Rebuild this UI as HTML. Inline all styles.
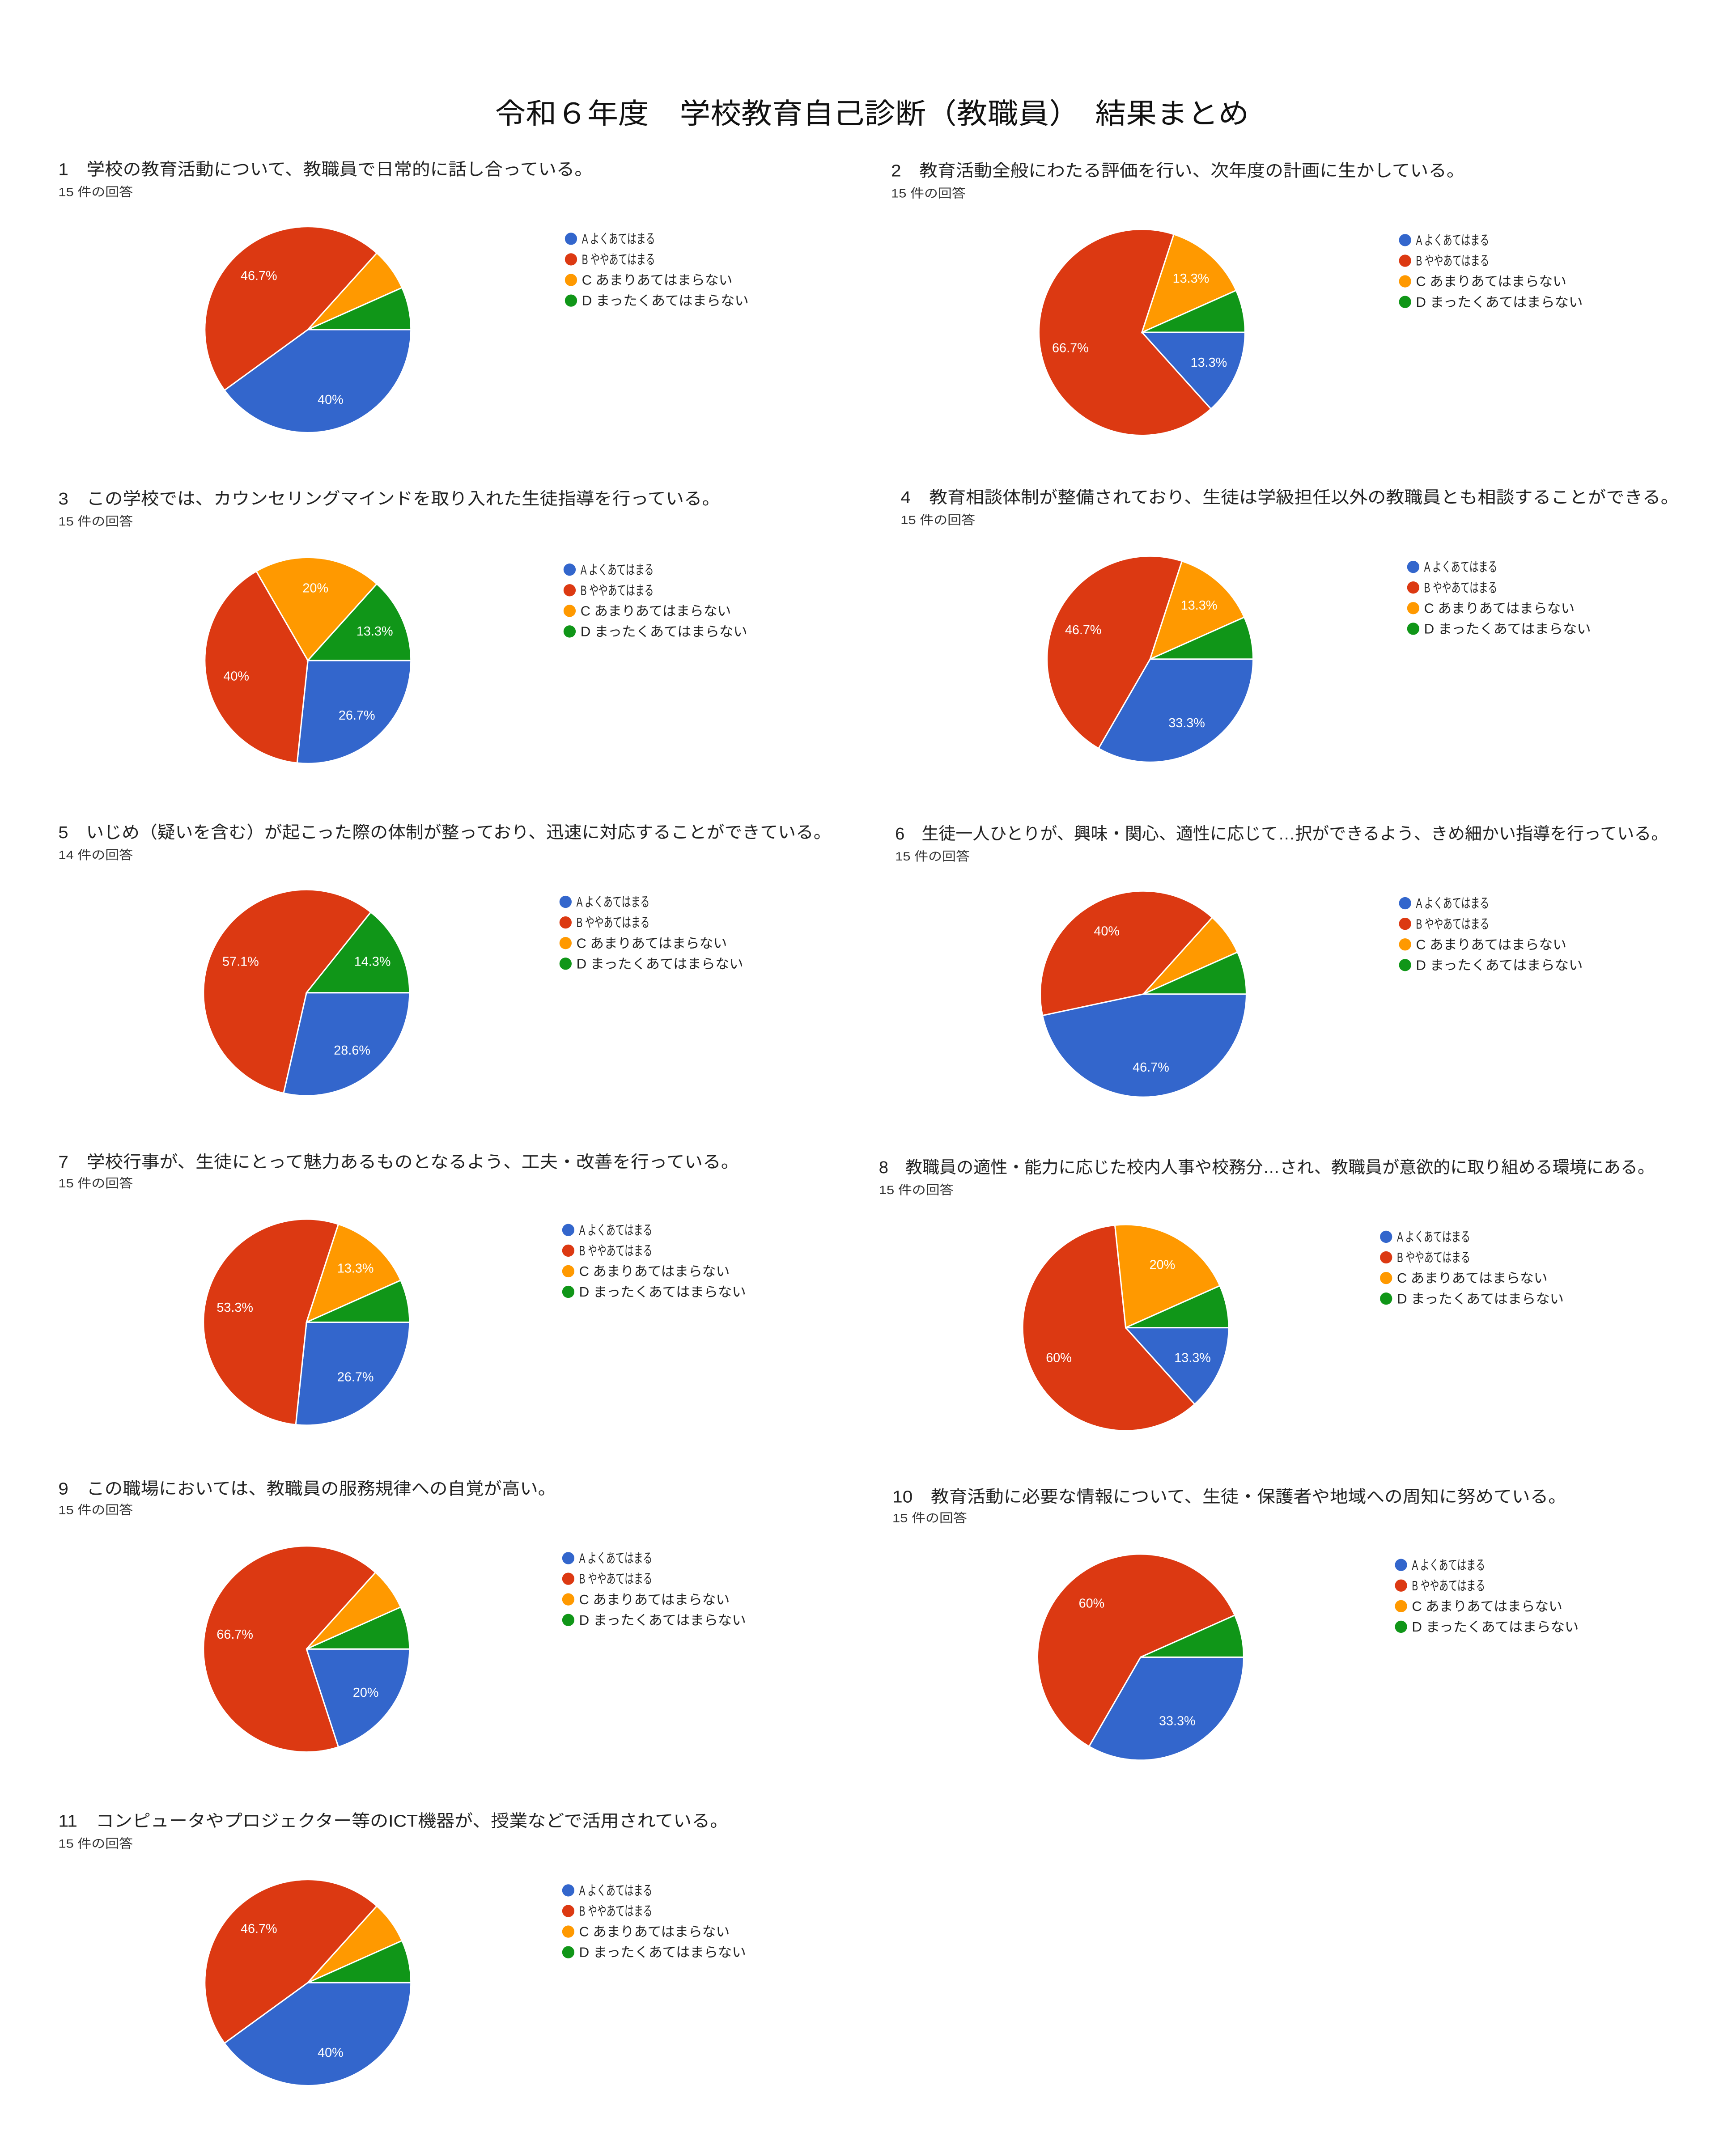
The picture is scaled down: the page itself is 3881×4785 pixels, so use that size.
<!DOCTYPE html>
<html><head><meta charset="utf-8">
<style>html,body{margin:0;padding:0;background:#fff}svg{display:block}</style>
</head><body>
<svg id="s" xmlns="http://www.w3.org/2000/svg" width="3881" height="4785" viewBox="0 0 1280 1578" font-family="'Liberation Sans','Noto Sans CJK JP',sans-serif">
<rect width="1280" height="1578" fill="#fff"/>
<text x="643" y="91" font-size="21" text-anchor="middle" fill="#111" textLength="556" lengthAdjust="spacingAndGlyphs">令和６年度　学校教育自己診断（教職員）　結果まとめ</text>
</svg>
<script>
var C=['#3366cc','#dc3912','#ff9900','#109618'];
var L=['A よくあてはまる','B ややあてはまる','C あまりあてはまらない','D まったくあてはまらない'];
var Q=[
[43,124,437,'1　学校の教育活動について、教職員で日常的に話し合っている。',141,227,243,421,176,[6,7,1,1],'15'],
[657,125,1080,'2　教育活動全般にわたる評価を行い、次年度の計画に生かしている。',142,842,245,1036,177,[2,10,2,1],'15'],
[43,367,531,'3　この学校では、カウンセリングマインドを取り入れた生徒指導を行っている。',384,227,487,420,420,[4,6,3,2],'15'],
[664,366,1238,'4　教育相談体制が整備されており、生徒は学級担任以外の教職員とも相談することができる。',383,848,486,1042,418,[5,7,2,1],'15'],
[43,613,613,'5　いじめ（疑いを含む）が起こった際の体制が整っており、迅速に対応することができている。',630,226,732,417,665,[4,8,0,2],'14'],
[660,614,1230,'6　生徒一人ひとりが、興味・関心、適性に応じて…択ができるよう、きめ細かい指導を行っている。',631,843,733,1036,666,[7,6,1,1],'15'],
[43,856,545,'7　学校行事が、生徒にとって魅力あるものとなるよう、工夫・改善を行っている。',872,226,975,419,907,[4,8,2,1],'15'],
[648,860,1220,'8　教職員の適性・能力に応じた校内人事や校務分…され、教職員が意欲的に取り組める環境にある。',877,830,979,1022,912,[2,9,3,1],'15'],
[43,1097,410,'9　この職場においては、教職員の服務規律への自覚が高い。',1113,226,1216,419,1149,[3,10,1,1],'15'],
[658,1103,1155,'10　教育活動に必要な情報について、生徒・保護者や地域への周知に努めている。',1119,841,1222,1033,1154,[5,9,0,1],'15'],
[43,1342,537,'11　コンピュータやプロジェクター等のICT機器が、授業などで活用されている。',1359,227,1462,419,1394,[6,7,1,1],'15']
];
var h='';var R=76;
function pt(cx,cy,r,a){return [cx+r*Math.cos(a),cy+r*Math.sin(a)];}
Q.forEach(function(q){
 h+='<text x="'+q[0]+'" y="'+(q[1]+5)+'" font-size="12.5" fill="#222" textLength="'+(q[2]-q[0])+'" lengthAdjust="spacingAndGlyphs">'+q[3]+'</text>';
 h+='<text x="'+q[0]+'" y="'+(q[4]+3.5)+'" font-size="9" fill="#333" textLength="55" lengthAdjust="spacingAndGlyphs">'+q[10]+' 件の回答</text>';
 var d=q[9],tot=d.reduce(function(a,b){return a+b},0),a0=0,cx=q[5],cy=q[6];
 d.forEach(function(v,i){
  if(!v)return;var a1=a0+v/tot*2*Math.PI;
  var p0=pt(cx,cy,R,a0),p1=pt(cx,cy,R,a1);
  h+='<path d="M'+cx+','+cy+' L'+p0[0].toFixed(2)+','+p0[1].toFixed(2)+' A'+R+','+R+' 0 '+(a1-a0>Math.PI?1:0)+' 1 '+p1[0].toFixed(2)+','+p1[1].toFixed(2)+' Z" fill="'+C[i]+'" stroke="#fff" stroke-width="1"/>';
  if(v/tot>0.1){var m=pt(cx,cy,R*0.71,(a0+a1)/2);var pc=Math.round(v/tot*1000)/10;
   h+='<text x="'+m[0].toFixed(1)+'" y="'+(m[1]+3.5).toFixed(1)+'" font-size="9.5" fill="#fff" text-anchor="middle">'+pc+'%</text>';}
  a0=a1;
 });
 for(var i=0;i<4;i++){var y=q[8]+i*15.2;
  h+='<circle cx="'+q[7]+'" cy="'+y+'" r="4.5" fill="'+C[i]+'"/>';
  h+='<text x="'+(q[7]+8)+'" y="'+(y+3.5)+'" font-size="10" fill="#222" textLength="'+(i==0||i==1?54:(i==2?111:123))+'" lengthAdjust="spacingAndGlyphs">'+L[i]+'</text>';}
});
document.getElementById('s').insertAdjacentHTML('beforeend',h);
</script>
</body></html>
